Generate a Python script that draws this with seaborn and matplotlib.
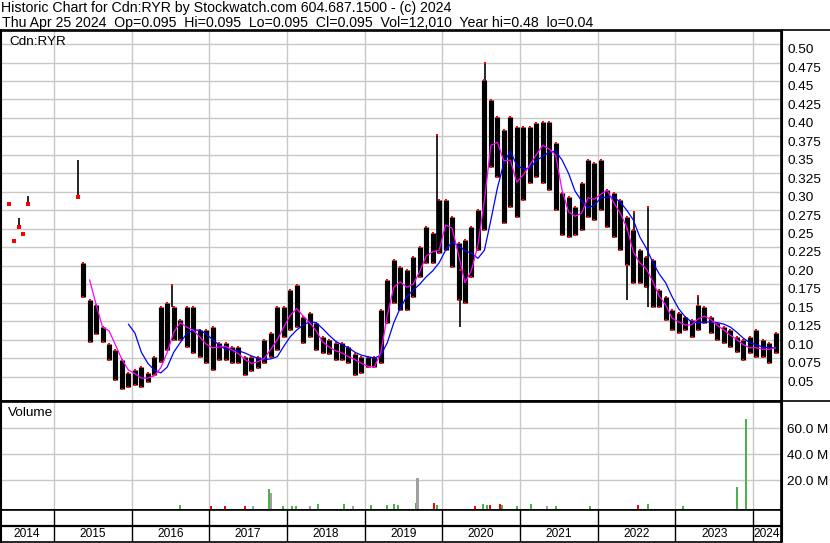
import numpy as np
import pandas as pd
import matplotlib
matplotlib.use("Agg")
import matplotlib.pyplot as plt
import matplotlib.transforms as mtransforms
from matplotlib.lines import Line2D
import seaborn as sns

# ---------------- data ----------------
header1 = "Historic Chart for Cdn:RYR by Stockwatch.com 604.687.1500 - (c) 2024"
header2 = "Thu Apr 25 2024  Op=0.095  Hi=0.095  Lo=0.095  Cl=0.095  Vol=12,010  Year hi=0.48  lo=0.04"
symbol = "Cdn:RYR"

# sparse early trades (fractional year)
early_t = [2014.421, 2014.481, 2014.550, 2014.597, 2014.665, 2015.305]
early_lo = [0.284, 0.234, 0.253, 0.243, 0.284, 0.293]
early_hi = [0.284, 0.234, 0.264, 0.243, 0.294, 0.343]

months = pd.period_range("2015-05", "2024-04", freq="M")

body_hi = [0.204, 0.154, 0.147, 0.117, 0.094, 0.086, 0.073, 0.055, 0.059, 0.063,
           0.055, 0.077, 0.144, 0.150, 0.144, 0.127, 0.144, 0.144, 0.113, 0.113,
           0.117, 0.096, 0.096, 0.090, 0.090, 0.077, 0.077, 0.077, 0.100, 0.109,
           0.144, 0.144, 0.167, 0.174, 0.131, 0.136, 0.123, 0.104, 0.100, 0.096,
           0.096, 0.090, 0.080, 0.077, 0.077, 0.077, 0.140, 0.181, 0.208, 0.198,
           0.194, 0.212, 0.225, 0.252, 0.244, 0.289, 0.289, 0.266, 0.231, 0.235,
           0.252, 0.275, 0.451, 0.424, 0.401, 0.384, 0.401, 0.388, 0.388, 0.388,
           0.393, 0.394, 0.394, 0.366, 0.298, 0.293, 0.280, 0.312, 0.343, 0.339,
           0.343, 0.302, 0.298, 0.289, 0.266, 0.248, 0.221, 0.212, 0.208, 0.167,
           0.158, 0.140, 0.136, 0.131, 0.127, 0.147, 0.144, 0.131, 0.123, 0.117,
           0.113, 0.104, 0.100, 0.104, 0.113, 0.100, 0.096, 0.109]
body_lo = [0.158, 0.097, 0.107, 0.097, 0.073, 0.045, 0.033, 0.036, 0.039, 0.036,
           0.043, 0.052, 0.070, 0.086, 0.100, 0.100, 0.090, 0.082, 0.077, 0.068,
           0.059, 0.073, 0.073, 0.068, 0.068, 0.052, 0.057, 0.062, 0.068, 0.077,
           0.086, 0.104, 0.113, 0.117, 0.096, 0.104, 0.086, 0.082, 0.080, 0.073,
           0.073, 0.068, 0.052, 0.055, 0.063, 0.063, 0.068, 0.123, 0.150, 0.140,
           0.140, 0.158, 0.185, 0.204, 0.204, 0.217, 0.221, 0.198, 0.154, 0.150,
           0.185, 0.221, 0.248, 0.334, 0.320, 0.258, 0.280, 0.266, 0.289, 0.312,
           0.320, 0.312, 0.302, 0.275, 0.242, 0.239, 0.242, 0.248, 0.266, 0.262,
           0.275, 0.252, 0.239, 0.221, 0.201, 0.177, 0.177, 0.171, 0.144, 0.144,
           0.127, 0.113, 0.109, 0.113, 0.104, 0.113, 0.123, 0.109, 0.100, 0.096,
           0.090, 0.083, 0.073, 0.082, 0.077, 0.077, 0.068, 0.082]

nan = np.nan
ma_fast = [nan, 0.181, 0.148, 0.117, 0.112, 0.093, 0.073, 0.059, 0.054, 0.048,
           0.048, 0.051, 0.062, 0.083, 0.110, 0.123, 0.117, 0.113, 0.104, 0.094,
           0.089, 0.090, 0.091, 0.086, 0.081, 0.073, 0.068, 0.070, 0.075, 0.087,
           0.100, 0.117, 0.133, 0.142, 0.132, 0.123, 0.112, 0.097, 0.090, 0.085,
           0.082, 0.077, 0.073, 0.068, 0.064, 0.063, 0.083, 0.133, 0.171, 0.178,
           0.171, 0.175, 0.192, 0.213, 0.219, 0.221, 0.255, 0.251, 0.215, 0.177,
           0.194, 0.228, 0.289, 0.363, 0.367, 0.342, 0.343, 0.313, 0.323, 0.336,
           0.350, 0.363, 0.358, 0.350, 0.302, 0.273, 0.267, 0.271, 0.292, 0.290,
           0.297, 0.302, 0.285, 0.271, 0.252, 0.219, 0.204, 0.196, 0.179, 0.159,
           0.147, 0.129, 0.124, 0.120, 0.120, 0.128, 0.132, 0.127, 0.119, 0.113,
           0.106, 0.100, 0.093, 0.089, 0.089, 0.087, 0.087, 0.089]
ma_slow = [nan, nan, nan, nan, nan, nan, nan, 0.121, 0.109, 0.083,
           0.068, 0.059, 0.055, 0.063, 0.083, 0.096, 0.108, 0.113, 0.113, 0.108,
           0.100, 0.093, 0.087, 0.086, 0.085, 0.082, 0.078, 0.075, 0.073, 0.074,
           0.077, 0.091, 0.104, 0.113, 0.120, 0.124, 0.123, 0.115, 0.106, 0.098,
           0.093, 0.089, 0.083, 0.079, 0.077, 0.075, 0.079, 0.096, 0.123, 0.143,
           0.158, 0.167, 0.175, 0.185, 0.193, 0.204, 0.221, 0.232, 0.227, 0.220,
           0.217, 0.210, 0.221, 0.262, 0.305, 0.339, 0.355, 0.336, 0.331, 0.332,
           0.342, 0.348, 0.354, 0.355, 0.343, 0.325, 0.301, 0.288, 0.278, 0.282,
           0.292, 0.293, 0.293, 0.286, 0.275, 0.262, 0.239, 0.224, 0.205, 0.189,
           0.177, 0.158, 0.142, 0.131, 0.124, 0.123, 0.124, 0.124, 0.123, 0.121,
           0.117, 0.110, 0.102, 0.096, 0.093, 0.090, 0.089, 0.089]

# isolated intraday spikes (fractional year, low, high)
spike_t = [2016.516, 2019.931, 2020.227, 2020.549, 2022.381, 2022.468, 2022.644, 2023.296]
spike_lo = [0.144, 0.220, 0.117, 0.357, 0.154, 0.221, 0.144, 0.127]
spike_hi = [0.174, 0.377, 0.194, 0.474, 0.250, 0.273, 0.280, 0.159]

# volume (fractional year, millions, direction u/d/n)
vol_t = [2016.623, 2017.018, 2017.202, 2017.459, 2017.562, 2017.772, 2017.788, 2017.945,
         2018.065, 2018.116, 2018.296, 2018.395, 2018.734, 2018.850, 2019.082, 2019.288,
         2019.378, 2019.429, 2019.661, 2019.680, 2019.893, 2019.931, 2020.421, 2020.524,
         2020.575, 2020.614, 2020.743, 2020.768, 2020.961, 2021.142, 2021.348, 2021.464,
         2021.901, 2022.519, 2022.644, 2023.099, 2023.790, 2023.906]
vol_m = [0.8, 0.5, 0.5, 0.5, 0.4, 13.3, 10.0, 0.6,
         0.6, 0.6, 0.5, 1.5, 1.5, 0.5, 1.0, 0.8,
         1.8, 0.8, 2.5, 21.8, 2.5, 0.8, 0.5, 2.0,
         1.2, 1.0, 2.0, 0.8, 0.5, 1.5, 0.5, 0.5,
         0.5, 0.8, 2.0, 0.5, 14.8, 67.2]
vol_dir = ["u", "d", "d", "d", "n", "u", "n", "u",
           "u", "u", "n", "u", "u", "n", "u", "u",
           "u", "u", "u", "n", "d", "u", "d", "u",
           "u", "d", "d", "u", "u", "u", "n", "u",
           "u", "d", "u", "u", "u", "u"]

years = list(range(2014, 2025))
price_ticks = [0.05, 0.075, 0.10, 0.125, 0.15, 0.175, 0.20, 0.225, 0.25, 0.275,
               0.30, 0.325, 0.35, 0.375, 0.40, 0.425, 0.45, 0.475, 0.50]
price_labels = ["0.05", "0.075", "0.10", "0.125", "0.15", "0.175", "0.20", "0.225",
                "0.25", "0.275", "0.30", "0.325", "0.35", "0.375", "0.40", "0.425",
                "0.45", "0.475", "0.50"]
vol_ticks = [20, 40, 60]
vol_labels = ["20.0 M", "40.0 M", "60.0 M"]

# ---------------- drawing ----------------
sns.set_theme(style="white")
plt.rcParams['font.family'] = ['Liberation Sans', 'DejaVu Sans']

W, H = 830, 543
fig = plt.figure(figsize=(W / 100, H / 100), dpi=100)
fig.patch.set_facecolor("white")


def box(x0, y0, x1, y1):
    return [x0 / W, 1 - y1 / H, (x1 - x0) / W, (y1 - y0) / H]


X0, X1 = 2014.305, 2024.36
GRID = "#c8c8c8"
LBL = 9.7
t_month = np.asarray(months.year + (months.month - 0.5) / 12.0, dtype=float)

ax = fig.add_axes(box(0, 30.5, 781, 400.5))
axv = fig.add_axes(box(0, 402, 781, 509.5))
axy = fig.add_axes(box(0, 509.5, 781, 542))

# ---- price panel ----
ax.set_xlim(X0, X1)
ax.set_ylim(0.0177, 0.5183)
ax.set_xticks(years[1:])
ax.set_xticklabels([])
ax.set_yticks(price_ticks)
ax.set_yticklabels(price_labels)
ax.yaxis.tick_right()
ax.tick_params(axis="both", length=0)
ax.tick_params(axis="y", pad=4.6, labelsize=LBL, labelcolor="black")
ax.grid(True, color=GRID, linewidth=1.0)
ax.set_axisbelow(True)
off = mtransforms.ScaledTranslation(0, -4.7 / 100, fig.dpi_scale_trans)
for lbl in ax.get_yticklabels():
    lbl.set_transform(lbl.get_transform() + off)

ax.vlines(t_month, body_lo, body_hi, color="black", linewidth=3.7, zorder=2)
ax.vlines(spike_t, spike_lo, spike_hi, color="black", linewidth=1.2, zorder=2)
ax.vlines(early_t, early_lo, early_hi, color="black", linewidth=1.2, zorder=2)
ax.scatter(t_month, body_hi, marker="s", s=4, color="#ff0000", linewidths=0, zorder=3)
ax.scatter(t_month, body_lo, marker="s", s=4, color="#ff0000", linewidths=0, zorder=3)
ax.scatter(spike_t, spike_hi, marker="s", s=4, color="#ff0000", linewidths=0, zorder=3)
ax.scatter(early_t, early_lo, marker="s", s=5, color="#ff0000", linewidths=0, zorder=3)

ma_df = pd.DataFrame({"t": t_month, "fast": ma_fast, "slow": ma_slow})
sns.lineplot(data=ma_df, x="t", y="slow", color="#0000ff", linewidth=0.9, ax=ax, zorder=4)
sns.lineplot(data=ma_df, x="t", y="fast", color="#ff00ff", linewidth=0.9, ax=ax, zorder=5)
ax.set_xlabel("")
ax.set_ylabel("")
ax.text(9 / 781, 1 - (41.7 - 30.5) / 370, symbol, transform=ax.transAxes,
        fontsize=LBL, va="center", ha="left", color="black")

# ---- volume panel ----
vb = -2.46
axv.set_xlim(X0, X1)
axv.set_ylim(vb, 80.2)
axv.set_xticks(years[1:])
axv.set_xticklabels([])
axv.set_yticks(vol_ticks)
axv.set_yticklabels(vol_labels)
axv.yaxis.tick_right()
axv.tick_params(axis="both", length=0)
axv.tick_params(axis="y", pad=4.6, labelsize=LBL, labelcolor="black")
axv.grid(True, color=GRID, linewidth=1.0)
axv.set_axisbelow(True)
cmap = {"u": "#4cb34c", "d": "#ff0000", "n": "#a0a0a0"}
axv.bar(vol_t, np.asarray(vol_m) - vb, bottom=vb, width=0.026,
        color=[cmap[d] for d in vol_dir], linewidth=0, zorder=2)
axv.text(8 / 781, 1 - (413 - 402) / 107.5, "Volume", transform=axv.transAxes,
         fontsize=LBL, va="center", ha="left", color="black")

# ---- year band ----
axy.set_xlim(X0, X1)
axy.set_ylim(0, 1)
axy.set_xticks([])
axy.set_yticks([])
axy.axhline(0.49, color="black", linewidth=1.6)
for y in years[1:]:
    axy.axvline(y, color="black", linewidth=1.0)
for y in years:
    l, r = max(y, X0), min(y + 1, X1)
    axy.text((l + r) / 2, 0.24, str(y), ha="center", va="center", fontsize=8.6, color="black")

for a in (ax, axv, axy):
    for s in a.spines.values():
        s.set_color("black")
        s.set_linewidth(1.2)
    a.set_facecolor("white")

# frame lines
fig.add_artist(Line2D([0, 1], [1 - 30 / H] * 2, color="black", linewidth=1.2))
fig.add_artist(Line2D([0, 1], [1 - 401 / H] * 2, color="black", linewidth=1.2))
fig.add_artist(Line2D([781.5 / W] * 2, [1 - 30 / H, 1 - 542 / H], color="black", linewidth=1.5))
fig.add_artist(Line2D([0.6 / W] * 2, [1 - 30 / H, 1 - 542 / H], color="black", linewidth=1.5))

# header
fig.text(1 / W, 1 - 8.3 / H, header1, fontsize=10.2, va="center", ha="left", color="black")
fig.text(2 / W, 1 - 23.5 / H, header2, fontsize=10.2, va="center", ha="left", color="black")

fig.savefig("out.png", dpi=100, facecolor="white")
